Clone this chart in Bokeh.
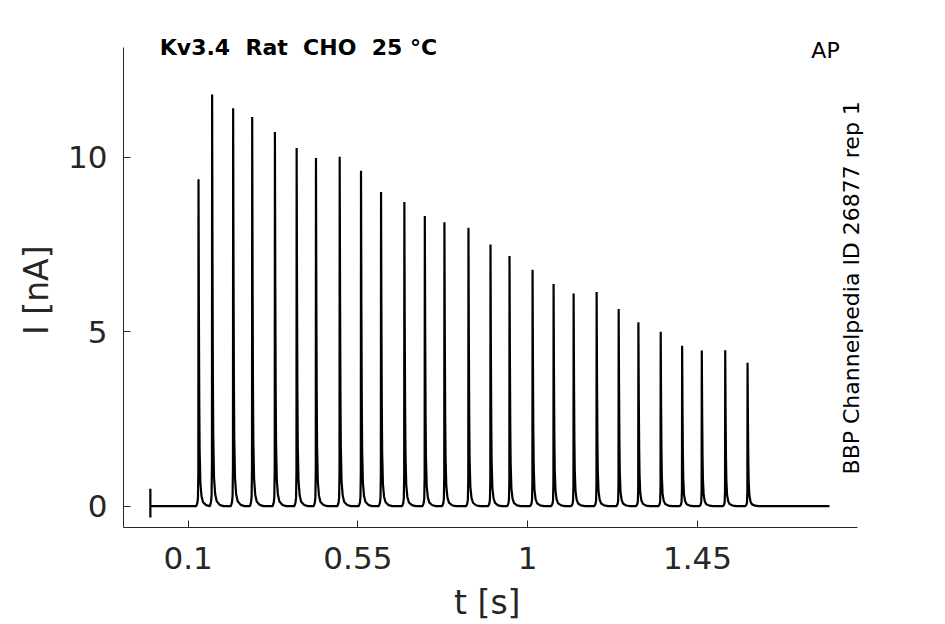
import numpy as np
from bokeh.plotting import figure
from bokeh.models import Label, FixedTicker, NumeralTickFormatter, Range1d
from bokeh.embed import file_html
from bokeh.resources import INLINE

# Spike peak times [s] and peak amplitudes [nA]
spike_t = [0.1276, 0.1637, 0.2194, 0.2699, 0.3301, 0.3877, 0.4389, 0.5018, 0.5583,
           0.6114, 0.6732, 0.7274, 0.7794, 0.8431, 0.9015, 0.9519, 1.0130, 1.0687,
           1.1218, 1.1828, 1.2412, 1.2935, 1.3526, 1.4094, 1.4615, 1.5236, 1.5828]
spike_amp = [9.37, 11.80, 11.41, 11.16, 10.73, 10.27, 9.98, 10.02, 9.62,
             9.01, 8.72, 8.32, 8.14, 7.98, 7.50, 7.17, 6.78, 6.37,
             6.10, 6.14, 5.65, 5.27, 5.00, 4.60, 4.46, 4.47, 4.11]

# Shape of one spike (time offset from peak [s], fraction of peak)
shape_dt = [-0.006, -0.003, -0.0015, -0.0005, 0.0, 0.001, 0.002, 0.003, 0.005, 0.008,
            0.012, 0.020, 0.030]
shape_frac = [0.0, 0.01, 0.025, 0.10, 1.0, 0.60, 0.32, 0.17, 0.07, 0.03,
              0.012, 0.003, 0.0]

# Start artifact and trace end
artifact_t = [0.0, 0.0, 0.0, 0.0]
artifact_i = [0.0, 0.50, -0.33, 0.0]
trace_end_t = 1.80

x_ticks = [0.1, 0.55, 1.0, 1.45]
y_ticks = [0, 5, 10]

NB = "\u00a0"
title_text = "Kv3.4" + NB * 2 + "Rat" + NB * 2 + "CHO" + NB * 2 + "25" + NB + "°C"
side_text = "BBP Channelpedia ID 26877 rep 1"
x_label = "t [s]"
y_label = "I [nA]"

# assemble trace
xs = list(artifact_t)
ys = list(artifact_i)
for tp, a in zip(spike_t, spike_amp):
    for d, f in zip(shape_dt, shape_frac):
        xs.append(tp + d)
        ys.append(a * f)
xs.append(trace_end_t)
ys.append(0.0)

# axes limits (where the drawn axis lines end)
x_lo, x_hi = -0.0712, 1.874
y_lo, y_hi = -0.614, 13.14

W, H = 945, 624
left_b, bottom_b = 123, 97
px_per_s = 377.3
px_per_nA = 34.87
x_end = x_lo + (W - left_b) / px_per_s
y_end = y_lo + (H - bottom_b) / px_per_nA

p = figure(width=W, height=H, output_backend="svg", toolbar_location=None,
           x_range=Range1d(x_lo, x_end), y_range=Range1d(y_lo, y_end),
           min_border_left=left_b, min_border_right=0, min_border_top=0,
           min_border_bottom=bottom_b)
p.outline_line_color = None
p.xgrid.visible = False
p.ygrid.visible = False
p.background_fill_color = "white"
p.border_fill_color = "white"

p.line(xs, ys, line_color="black", line_width=2.2)

AX = "#262626"
FONT = "DejaVu Sans"
for ax in (p.xaxis[0], p.yaxis[0]):
    ax.axis_line_color = AX
    ax.axis_line_width = 1
    ax.major_tick_line_color = AX
    ax.major_tick_in = 7
    ax.major_tick_out = 0
    ax.minor_tick_line_color = None
    ax.major_label_text_font = FONT
    ax.major_label_text_font_size = "31px"
    ax.major_label_text_color = AX
    ax.axis_label_text_font = FONT
    ax.axis_label_text_font_size = "33px"
    ax.axis_label_text_color = AX
    ax.axis_label_text_font_style = "normal"

p.xaxis.bounds = (x_lo, x_hi)
p.yaxis.bounds = (y_lo, y_hi)
p.xaxis.ticker = FixedTicker(ticks=x_ticks)
p.xaxis.formatter = NumeralTickFormatter(format="0.[00]")
p.yaxis.ticker = FixedTicker(ticks=y_ticks)
# labels are centred on the drawn axis span (which is shorter than the frame)
p.xaxis.axis_label = x_label + NB * 9
p.yaxis.axis_label = y_label + NB * 5
p.xaxis.major_label_standoff = 19
p.yaxis.major_label_standoff = 16
p.xaxis.axis_label_standoff = 11
p.yaxis.axis_label_standoff = 9

p.add_layout(Label(x=0.025, y=13.15, text=title_text, text_font=FONT,
                   text_font_size="22px", text_font_style="bold", text_color="black",
                   text_align="left", text_baseline="alphabetic"))
p.add_layout(Label(x=1.827, y=13.06, text="AP", text_font=FONT, text_font_size="22px",
                   text_color="black", text_align="right", text_baseline="alphabetic"))
p.add_layout(Label(x=1.857, y=6.26, text=side_text, text_font=FONT,
                   text_font_size="22px", text_color="black", angle=np.pi / 2,
                   text_align="center", text_baseline="alphabetic"))

open("out.html", "w").write(file_html(p, INLINE))
